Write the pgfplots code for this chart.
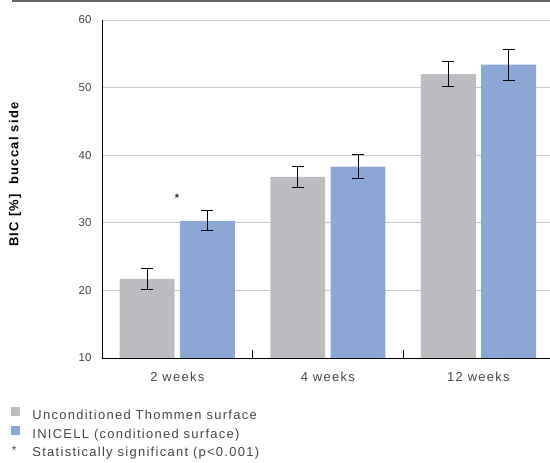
\documentclass[border=0pt]{standalone}
\usepackage{pgfplots}
\pgfplotsset{compat=1.18}
\usepackage{fontspec}
\setmainfont{Liberation Sans}
\newfontfamily\tracked[LetterSpace=10]{Liberation Sans}
\definecolor{barGray}{RGB}{188,189,193}
\definecolor{barBlue}{RGB}{140,166,214}
\definecolor{gridGray}{RGB}{200,200,200}
\definecolor{txt}{RGB}{70,70,70}
\begin{document}
\begin{tikzpicture}
\useasboundingbox (0,0) rectangle (550bp,463bp);
\draw[color={rgb,255:red,100;green,100;blue,100}, line width=1.5bp] (12bp,462.2bp) -- (550bp,462.2bp);
\begin{axis}[
  at={(102bp,105bp)}, anchor=origin,
  scale only axis, width=448bp, height=338bp,
  xmin=0.5, xmax=3.475, ymin=10, ymax=60,
  axis x line*=bottom, axis y line*=left,
  axis line style={black, line width=0.9bp},
  ytick={10,20,...,60},
  ymajorgrids, grid style={gridGray, line width=0.9bp},
  major tick length=0pt,
  xtick={1,2,3}, xticklabels={2 weeks,4 weeks,12 weeks},
  extra x ticks={1.5,2.5}, extra x tick labels={},
  extra x tick style={major tick length=8bp, tick align=inside, tick style={black, line width=0.9bp}, grid=none},
  yticklabel style={font=\fontsize{11.5}{12}\selectfont, text=txt, xshift=-7bp},
  /pgf/number format/assume math mode=true,
  xticklabel style={font=\tracked\fontsize{13}{14}\selectfont, text=txt, yshift=-11bp},
  ylabel={\bfseries BIC [\%]\ \ buccal side},
  ylabel style={font=\tracked\fontsize{13}{14}\selectfont, text=black, at={(axis description cs:-0.194,0.543)}, anchor=center},
  legend style={at={(axis description cs:-0.2031,-0.145)}, anchor=north west, draw=none, fill=none,
     inner sep=0pt, outer sep=0pt,
     nodes={inner sep=0pt, text height=10bp, text depth=3bp},
     font=\tracked\fontsize{13}{14}\selectfont, text=txt, row sep=3bp, legend cell align=left,
     /tikz/column 1/.style={column sep=12bp}},
  error bars/error bar style={black, line width=1bp},
  error bars/error mark options={black, rotate=90, mark size=6bp, line width=1bp},
]
\addplot[ybar, bar width=0.365, bar shift=0, fill=barGray, draw=none,
  legend image code/.code={\fill[barGray] (0bp,0bp) rectangle (9bp,9bp);},
  error bars/.cd, y dir=both, y explicit]
  coordinates {(0.8,21.7) +- (0,1.5) (1.8,36.8) +- (0,1.6) (2.8,52.0) +- (0,1.9)};
\addlegendentry{Unconditioned Thommen surface}
\addplot[ybar, bar width=0.365, bar shift=0, fill=barBlue, draw=none,
  legend image code/.code={\fill[barBlue] (0bp,0bp) rectangle (9bp,9bp);},
  error bars/.cd, y dir=both, y explicit]
  coordinates {(1.2,30.3) +- (0,1.5) (2.2,38.3) +- (0,1.8) (3.2,53.4) +- (0,2.3)};
\addlegendentry{INICELL (conditioned surface)}
\addlegendimage{legend image code/.code={\fill[white, fill opacity=0] (0bp,0bp) rectangle (9bp,9bp); \node[draw=none, fill=none, text=txt, inner sep=0pt, text height=, text depth=, anchor=base, font=\fontsize{12}{13}\selectfont] at (3bp,-1bp) {*};}}
\addlegendentry{Statistically significant (p<0.001)}
\node[text=black, font=\fontsize{12.5}{13}\selectfont] at (axis cs:0.998,33.6) {*};
\end{axis}
\end{tikzpicture}
\end{document}
